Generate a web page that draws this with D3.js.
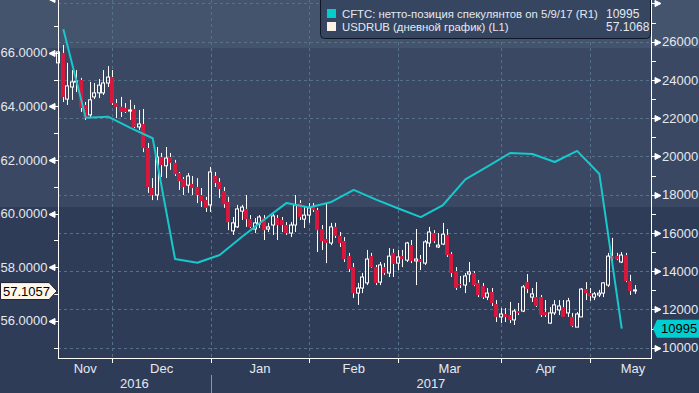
<!DOCTYPE html>
<html>
<head>
<meta charset="utf-8">
<script src="https://cdn.jsdelivr.net/npm/d3@7"></script>
<style>
  html, body { margin: 0; padding: 0; background: #2f3c57; }
  svg { display: block; font-family: "Liberation Sans", Arial, sans-serif; }
</style>
</head>
<body>
<svg id="chart" width="699" height="393"></svg>
<script>
// USDRUB daily candles (one per weekday, mid Nov 2016 .. mid May 2017)
const opens = [65.62,65.99,64.27,64.72,64.91,64.98,64.05,63.68,64.35,64.50,64.50,64.87,65.09,64.12,63.98,63.94,63.83,63.90,63.23,63.34,
  62.44,60.95,60.69,62.11,61.78,62.11,61.89,61.51,61.29,61.06,61.10,60.99,60.69,60.50,60.32,61.40,61.18,60.84,60.43,59.35,
  59.50,60.09,60.17,59.79,59.42,59.61,59.83,59.42,59.57,59.83,59.76,59.57,59.27,59.57,60.39,59.79,59.94,60.24,60.13,59.42,
  59.05,58.90,59.50,59.16,58.97,58.41,58.00,57.03,57.22,57.41,58.41,58.00,57.44,58.00,57.78,58.53,58.15,58.41,58.26,58.82,
  58.23,58.30,58.15,58.90,59.27,58.75,58.86,59.20,58.49,57.85,57.37,57.33,57.74,57.78,57.41,57.29,56.88,57.07,56.62,56.14,
  56.25,56.21,56.03,56.36,56.36,57.44,56.88,56.88,56.88,56.32,55.91,56.29,56.40,56.51,56.29,56.14,55.76,56.14,57.18,57.03,
  56.88,56.96,57.03,57.33,58.41,58.41,58.19,58.45,57.48,57.11];
const highs = [66.88,66.29,65.62,65.35,65.35,65.06,64.16,64.91,64.87,65.02,65.35,65.50,65.35,64.27,64.35,64.12,64.24,64.05,63.86,63.90,
  62.63,61.32,62.48,62.26,62.48,62.26,62.00,61.55,61.36,61.51,61.40,61.32,60.95,60.62,61.74,61.55,61.32,60.99,60.62,59.87,
  60.32,60.32,60.69,59.94,59.83,59.94,59.94,59.65,59.98,59.94,59.87,59.68,59.68,60.69,60.50,60.24,60.39,60.39,60.21,59.57,
  60.39,59.65,59.65,59.31,59.12,58.53,58.15,57.41,57.78,58.64,58.53,58.08,58.19,58.15,58.71,58.68,58.64,58.64,58.94,59.01,
  59.42,58.45,59.01,59.50,59.38,59.27,59.65,59.42,58.56,58.00,57.67,57.78,58.19,57.85,57.52,57.41,57.22,57.22,56.77,56.47,
  56.47,56.70,56.44,56.66,57.33,57.74,57.22,57.44,56.96,56.77,56.51,56.77,56.77,56.77,56.85,56.29,56.32,57.22,57.44,57.22,
  57.07,57.15,57.44,58.53,59.09,58.53,58.56,58.53,57.71,57.33];
const lows = [64.31,64.16,64.05,64.24,64.53,63.79,63.49,63.60,64.27,64.31,64.42,64.72,64.05,63.56,63.60,63.75,63.49,63.19,63.12,62.29,
  60.77,60.50,60.50,61.36,61.32,61.63,61.40,60.88,60.69,60.77,60.69,60.39,60.24,60.06,60.06,60.99,60.58,60.21,59.38,59.20,
  59.46,59.76,59.50,59.46,59.27,59.46,59.01,59.31,59.20,59.01,59.31,59.20,59.12,59.31,59.76,59.46,59.65,60.06,58.56,58.64,
  58.15,58.82,59.09,58.75,58.19,57.82,56.85,56.59,57.03,57.33,57.97,57.33,57.33,57.71,57.63,57.63,57.89,58.00,58.19,58.15,
  57.33,57.89,58.08,58.75,58.90,58.71,58.82,58.38,57.63,57.15,57.22,57.03,57.44,57.29,56.88,56.81,56.77,56.55,55.95,55.91,
  55.95,55.91,55.84,56.21,56.32,57.03,56.70,56.51,56.14,56.14,55.88,56.21,56.21,56.14,56.14,55.76,55.76,56.14,56.77,56.74,
  56.77,56.88,56.88,57.26,57.97,58.26,58.15,57.44,56.96,57.00];
const closes = [66.03,64.35,64.76,64.91,64.94,63.94,63.60,64.24,64.50,64.79,64.87,65.09,64.12,63.98,63.79,63.79,63.86,63.23,63.34,62.44,
  60.99,60.69,62.11,61.81,62.07,61.89,61.47,61.21,60.99,61.40,60.95,60.69,60.47,60.21,61.55,61.14,60.92,60.35,59.68,59.65,
  60.17,60.24,59.79,59.50,59.65,59.87,59.38,59.50,59.91,59.57,59.57,59.27,59.57,60.32,59.87,59.94,60.21,60.13,59.38,58.97,
  58.90,59.50,59.16,58.90,58.30,57.93,57.03,57.22,57.63,58.30,58.00,57.41,58.08,57.78,58.41,58.12,58.38,58.30,58.90,58.23,
  58.30,58.19,58.94,59.31,58.97,58.82,59.23,58.45,57.78,57.22,57.33,57.67,57.82,57.33,56.96,56.88,57.03,56.66,56.14,56.25,
  56.14,56.03,56.36,56.29,57.26,57.18,57.00,56.55,56.21,56.21,56.29,56.59,56.55,56.14,56.74,55.80,56.25,57.18,57.03,56.92,
  57.00,57.03,57.41,58.41,58.30,58.30,58.45,57.48,57.11,57.15];

// CFTC net speculative position, weekly (candle index of each report)
const cftcIdx = [1,6,11,16,21,26,31,36,41,46,51,56,61,66,71,76,81,86,91,96,101,106,111,116,121,126];
const cftcValues = [26650,22030,22080,21490,20950,14640,14440,14850,15800,16700,17570,17330,17620,18250,17740,17280,
  16830,17460,18800,19480,20180,20130,19710,20290,19080,10995];

const monthNames = ["Nov", "Dec", "Jan", "Feb", "Mar", "Apr", "May"];
const monthBreaks = [12, 34, 56, 76, 99, 119];
const lastMonthEnd = 138;
const yearNames = ["2016", "2017"];
const yearBreak = 34;

const leftTicks = [56, 58, 60, 62, 64, 66, 68];
const rightTicks = [10000, 12000, 14000, 16000, 18000, 20000, 22000, 24000, 26000, 28000];

const legendNames = ["CFTC: нетто-позиция спекулянтов on 5/9/17 (R1)", "USDRUB (дневной график) (L1)"];
const legendValues = ["10995", "57.1068"];
const lastRub = 57.1057;
const lastCftc = 10995;

const W = 699, H = 393;
const plot = {left: 58, right: 651, top: 0, bottom: 358};
const svg = d3.select("#chart");

const x = d3.scaleLinear().domain([-0.2, 132.55]).range([plot.left, plot.right]);
const yL = d3.scaleLinear().domain([56, 66]).range([320.7, 52.7]);
const yR = d3.scaleLinear().domain([10000, 26000]).range([347.7, 41.7]);

// background bands
svg.append("rect").attr("width", W).attr("height", H).attr("fill", "#2f3c57");
svg.append("rect").attr("y", 48).attr("width", W).attr("height", 159).attr("fill", "#3a4863");
svg.append("rect").attr("width", W).attr("height", 48).attr("fill", "#44546d");

// dashed grid
const grid = svg.append("g").attr("stroke", "#58718b").attr("stroke-dasharray", "3,3");
grid.selectAll("line.h").data(rightTicks).join("line").attr("class", "h")
  .attr("x1", plot.left).attr("x2", plot.right)
  .attr("y1", d => Math.round(yR(d)) + 0.5).attr("y2", d => Math.round(yR(d)) + 0.5);
grid.selectAll("line.v").data(monthBreaks).join("line").attr("class", "v")
  .attr("x1", d => Math.round(x(d)) + 0.5).attr("x2", d => Math.round(x(d)) + 0.5)
  .attr("y1", plot.top).attr("y2", plot.bottom);

// candles
const candles = d3.range(opens.length).map(i => ({
  i, o: opens[i], h: highs[i], l: lows[i], c: closes[i], up: closes[i] >= opens[i]
}));
const cg = svg.append("g");
candles.forEach(d => {
  const px = Math.floor(x(d.i));
  const top = yL(Math.max(d.o, d.c));
  const bot = Math.max(yL(Math.min(d.o, d.c)), top + 1);
  cg.append("line").attr("x1", px + 0.5).attr("x2", px + 0.5)
    .attr("y1", yL(d.h)).attr("y2", top).attr("stroke", "#ffffff");
  cg.append("line").attr("x1", px + 0.5).attr("x2", px + 0.5)
    .attr("y1", bot).attr("y2", yL(d.l)).attr("stroke", "#ffffff");
  if (d.up) {
    cg.append("rect").attr("x", px - 1.5).attr("y", top).attr("width", 3).attr("height", bot - top)
      .attr("fill", "none").attr("stroke", "#ffffff");
  } else {
    cg.append("rect").attr("x", px - 2).attr("y", top).attr("width", 4).attr("height", bot - top)
      .attr("fill", "#d8173c");
  }
});

// CFTC line
const line = d3.line().x((d, k) => x(cftcIdx[k])).y(d => yR(d));
svg.append("path").datum(cftcValues).attr("d", line)
  .attr("fill", "none").attr("stroke", "#17c8cc").attr("stroke-width", 2).attr("stroke-linejoin", "round");

// axes lines
const ax = svg.append("g").attr("stroke", "#ffffff").attr("stroke-width", 1);
ax.append("line").attr("x1", plot.left + 0.5).attr("x2", plot.left + 0.5).attr("y1", 0).attr("y2", plot.bottom + 0.5);
ax.append("line").attr("x1", plot.right + 0.5).attr("x2", plot.right + 0.5).attr("y1", 0).attr("y2", plot.bottom + 0.5);
ax.append("line").attr("x1", plot.left).attr("x2", plot.right + 1).attr("y1", plot.bottom + 0.5).attr("y2", plot.bottom + 0.5);

// left axis
const labelColor = "#e4e9f0";
const leftMinor = leftTicks.map(d => d - 1).concat([leftTicks[leftTicks.length - 1] + 1]);
ax.selectAll("line.lm").data(leftMinor.filter(d => yL(d) > 0 && yL(d) < plot.bottom)).join("line").attr("class", "lm")
  .attr("x1", plot.left - 4).attr("x2", plot.left)
  .attr("y1", d => Math.round(yL(d)) + 0.5).attr("y2", d => Math.round(yL(d)) + 0.5);
svg.selectAll("path.lt").data(leftTicks).join("path").attr("class", "lt")
  .attr("d", d => { const y = Math.round(yL(d)) + 0.5; return `M49,${y}L55,${y - 3}L55,${y + 3}Z M55,${y}H58`; })
  .attr("fill", "#ffffff").attr("stroke", "#ffffff").attr("stroke-width", 1);
svg.selectAll("text.ll").data(leftTicks.filter(d => yL(d) > 8)).join("text").attr("class", "ll")
  .attr("x", 47.5).attr("y", d => yL(d) + 4.7).attr("text-anchor", "end")
  .attr("fill", labelColor).attr("font-size", 13).text(d3.format(".4f"));

// right axis
const rightMinor = rightTicks.map(d => d + 1000);
ax.selectAll("line.rm").data(rightMinor.filter(d => yR(d) > 0 && yR(d) < plot.bottom)).join("line").attr("class", "rm")
  .attr("x1", plot.right).attr("x2", plot.right + 5)
  .attr("y1", d => Math.round(yR(d)) + 0.5).attr("y2", d => Math.round(yR(d)) + 0.5);
svg.selectAll("path.rt").data(rightTicks).join("path").attr("class", "rt")
  .attr("d", d => { const y = Math.round(yR(d)) + 0.5; return `M651,${y}H655 M655,${y - 3}L661,${y}L655,${y + 3}Z`; })
  .attr("fill", "#ffffff").attr("stroke", "#ffffff").attr("stroke-width", 1);
svg.selectAll("text.rl").data(rightTicks.filter(d => yR(d) > 8)).join("text").attr("class", "rl")
  .attr("x", 662).attr("y", d => yR(d) + 4.7)
  .attr("fill", labelColor).attr("font-size", 13).text(d => d);

// bottom axis: month ticks, labels, years
ax.selectAll("line.mt").data(monthBreaks).join("line").attr("class", "mt")
  .attr("x1", d => Math.round(x(d)) + 0.5).attr("x2", d => Math.round(x(d)) + 0.5)
  .attr("y1", plot.bottom).attr("y2", plot.bottom + 5);
const bounds = [plot.left].concat(monthBreaks.map(d => x(d)), [x(lastMonthEnd)]);
svg.selectAll("text.ml").data(monthNames).join("text").attr("class", "ml")
  .attr("x", (d, k) => (bounds[k] + bounds[k + 1]) / 2).attr("y", 372.5)
  .attr("text-anchor", "middle").attr("fill", labelColor).attr("font-size", 13).text(d => d);
const yBounds = [plot.left, x(yearBreak), plot.right];
svg.selectAll("text.yl").data(yearNames).join("text").attr("class", "yl")
  .attr("x", (d, k) => (yBounds[k] + yBounds[k + 1]) / 2).attr("y", 388)
  .attr("text-anchor", "middle").attr("fill", labelColor).attr("font-size", 13).text(d => d);
svg.append("line").attr("x1", Math.round(x(yearBreak)) + 0.5).attr("x2", Math.round(x(yearBreak)) + 0.5)
  .attr("y1", 375).attr("y2", H).attr("stroke", "#8a96a8");

// legend
const lg = svg.append("g");
lg.append("rect").attr("x", 320.5).attr("y", -4.5).attr("width", 330).attr("height", 43).attr("rx", 4)
  .attr("fill", "#364560").attr("stroke", "#0f1623");
const legendColors = ["#00cccc", "#fdf1e6"];
const nameTexts = [];
legendNames.forEach((name, k) => {
  const yy = 9 + k * 13;
  lg.append("rect").attr("x", 327).attr("y", yy).attr("width", 9).attr("height", 9).attr("fill", legendColors[k]);
  nameTexts.push(lg.append("text").attr("x", 342).attr("y", yy + 8.5).attr("fill", labelColor).attr("font-size", 12).text(name));
  lg.append("text").attr("x", 606).attr("y", yy + 8.5).attr("fill", labelColor).attr("font-size", 12).text(legendValues[k]);
});
// first legend name spans about 256px in the reference; fit the font to it
const w0 = nameTexts[0].node().getComputedTextLength();
const fs = Math.min(12, 12 * 256 / w0);
nameTexts.forEach(t => t.attr("font-size", fs));

// last value tags
const cyL = yL(lastRub);
svg.append("path").attr("d", `M0.5,${cyL - 8.5}H49L57,${cyL}L49,${cyL + 8.5}H0.5Z`)
  .attr("fill", "#fff6ea").attr("stroke", "#1b2230");
svg.append("text").attr("x", 3).attr("y", cyL + 4.7).attr("fill", "#000000").attr("font-size", 13).text(lastRub.toFixed(4));
const cyR = yR(lastCftc);
svg.append("path").attr("d", `M653,${cyR}L657,${cyR - 9}H699V${cyR + 9}H657Z`)
  .attr("fill", "#00cfd1");
svg.append("text").attr("x", 661).attr("y", cyR + 4.7).attr("fill", "#000000").attr("font-size", 13).text(lastCftc);
</script>
</body>
</html>
